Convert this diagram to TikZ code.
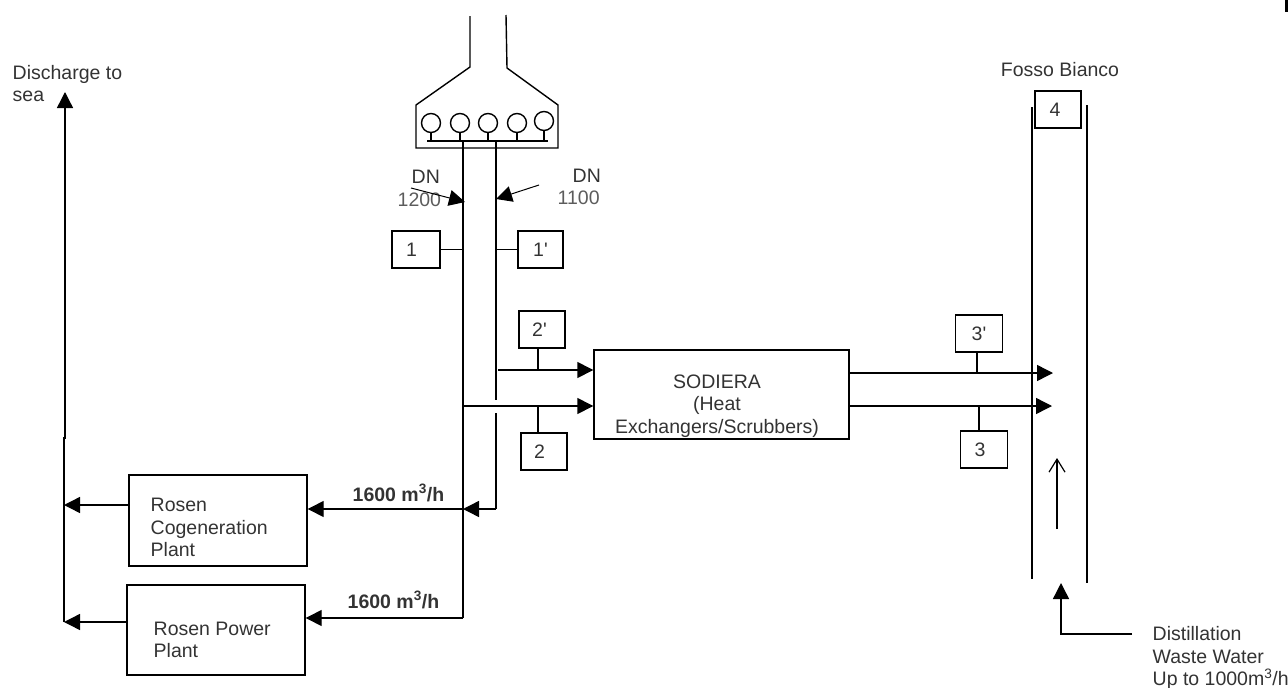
\documentclass[tikz,border=0pt]{standalone}
\usepackage{fontspec}
\setmainfont{Liberation Sans}
\usepackage{tikz}
\usetikzlibrary{arrows.meta, positioning}
\definecolor{lblGrey}{HTML}{333333}
\newcommand{\nudge}[1]{\hspace*{-#1pt}}
\begin{document}
\begin{tikzpicture}[
  x=1pt, y=-1pt,
  node distance=20pt,
  font=\fontsize{19.5}{22.5}\selectfont,
  line width=1.4pt,
  lbl/.style={text=lblGrey, inner sep=0pt, align=left, anchor=west},
  box/.style={draw, inner sep=0pt, text=lblGrey},
  tag/.style={box, minimum width=47pt, minimum height=37pt},
  ar/.style={-{Triangle[length=16pt, width=16pt]}},
  thin ar/.style={-{Straight Barb[length=13pt, width=16pt]}, line width=1.2pt}
]
\useasboundingbox (0,0) rectangle (1288,688);
\fill (1285,0) rectangle (1288,12);

% mains, coming down to the pump house
\coordinate (mainL) at (470,16);
\coordinate (mainR) at (506,15);
\coordinate (neckL) at (470,67);
\coordinate (neckR) at (507,68);
\coordinate (houseTL) at (416,105);
\coordinate (houseTR) at (558,105);
\coordinate (houseBL) at (416,148);
\coordinate (houseBR) at (558,148);
\draw (mainL) -- (neckL) -- (houseTL) -- (houseBL) -- (houseBR) -- (houseTR) -- (neckR) -- (mainR);

% pumps
\coordinate (hdrL) at (427,141);
\coordinate (hdrR) at (548,141);
\draw (hdrL) -- (hdrR);
\foreach \name/\px/\py in {pa/431/123, pb/460/123, pc/488/123, pd/517/123, pe/544/121} {
  \node[draw, circle, minimum size=19pt, inner sep=0pt] (\name) at (\px,\py) {};
  \draw (\name.south) -- (\name.south |- hdrL);
}

% the two pipes
\coordinate (pipeLtop) at (463,141);
\coordinate (pipeRtop) at (496,141);
\coordinate (pipeLend) at (463,618);
\coordinate (pipeRgapA) at (496,400);
\coordinate (pipeRgapB) at (496,413);
\coordinate (pipeRend) at (496,509);
\coordinate (pipeLcog) at (463,509);
\draw (pipeLtop) -- (pipeLend);
\draw (pipeRtop) -- (pipeRgapA);
\draw (pipeRgapB) -- (pipeRend);

% DN labels
\node[lbl] (dnA) at (411,177) {DN};
\node[lbl, text=lblGrey!80] (sizeA) at (397,200) {1200};
\node[lbl] (dnB) at (572,176) {DN};
\node[lbl, text=lblGrey!80] (sizeB) at (557,198) {1100};
\coordinate (dnAfrom) at (411,188);
\coordinate (dnAto) at (465,202);
\coordinate (dnBfrom) at (539,185);
\coordinate (dnBto) at (496,199);
\draw[ar, line width=1pt] (dnAfrom) -- (dnAto);
\draw[ar, line width=1pt] (dnBfrom) -- (dnBto);

% sampling points on the pipes
\node[tag, minimum width=48pt] (s1) at (416,249.5) {\nudge{9}1};
\node[tag, minimum width=45pt] (s1p) at (540.5,249.5) {1\textquotesingle};
\draw (s1.east) -- (s1.east -| pipeLtop);
\draw (s1p.west) -- (s1p.west -| pipeRtop);

% sodiera
\node[box, minimum width=255pt, minimum height=89pt, align=center] (sod) at (721.5,394.5) {};
\node[lbl, anchor=center, align=center] (sodtxt) at (717,406) {SODIERA\\(Heat\\Exchangers/Scrubbers)};
\coordinate (inA) at (498,370);
\coordinate (inB) at (463,406);
\draw[ar] (inA) -- (inA -| sod.west);
\draw[ar] (inB) -- (inB -| sod.west);
\node[tag, minimum width=46pt] (s2p) at (542,329.5) {\nudge{5}2\textquotesingle};
\node[tag, minimum width=46pt] (s2) at (544,451.5) {\nudge{9}2};
\draw (s2p.south -| 538,0) -- (538,370);
\draw (s2.north -| 538,0) -- (538,406);

% out to the channel
\coordinate (outA) at (1053,373);
\coordinate (outB) at (1052,406);
\draw[ar] (outA -| sod.east) -- (outA);
\draw[ar] (outB -| sod.east) -- (outB);
\node[tag] (s3p) at (979,333.5) {3\textquotesingle};
\node[tag] (s3) at (984,449.5) {\nudge{8}3};
\draw (s3p.south -| 977,0) -- (977,373);
\draw (s3.north -| 979,0) -- (979,406);

% fosso bianco
\node[lbl, anchor=center] (fosso) at (1060,70) {Fosso Bianco};
\node[tag, minimum width=46pt] (s4) at (1058,109.5) {\nudge{6}4};
\coordinate (chanLa) at (1032,107);
\coordinate (chanLb) at (1032,579);
\coordinate (chanRa) at (1087,105);
\coordinate (chanRb) at (1087,583);
\draw (chanLa) -- (chanLb);
\draw (chanRa) -- (chanRb);
\coordinate (flowA) at (1057,529);
\coordinate (flowB) at (1057,458);
\draw[thin ar] (flowA) -- (flowB);

% distillation water
\node[lbl] (dist) at (1152,658) {Distillation\\Waste Water\\Up to 1000m\textsuperscript{3}/h};
\coordinate (distA) at (1132,634);
\coordinate (distB) at (1061,634);
\coordinate (distC) at (1061,583);
\draw[ar] (distA) -- (distB) -- (distC);

% rosen plants
\node[box, minimum width=178pt, minimum height=91pt] (cogen) at (218,520.5) {};
\node[lbl] (cogtxt) at (150,527.5) {Rosen\\Cogeneration\\Plant};
\node[box, minimum width=178pt, minimum height=90pt] (power) at (216,630) {};
\node[lbl] (powtxt) at (153,640) {Rosen Power\\Plant};
\draw[ar] (pipeRend) -- (pipeLcog);
\draw[ar] (pipeLcog) -- (pipeLcog -| cogen.east);
\draw[ar] (pipeLend) -- (pipeLend -| power.east);
\node[lbl, font=\fontsize{19.5}{22.5}\selectfont\bfseries] (flowCog) at (352,493) {1600 m\textsuperscript{3}/h};
\node[lbl, font=\fontsize{19.5}{22.5}\selectfont\bfseries] (flowPow) at (347,600) {1600 m\textsuperscript{3}/h};

% discharge line, with its small step
\coordinate (trunkTop) at (65,92);
\coordinate (trunkStep) at (65,438);
\coordinate (trunkLow) at (64,438);
\coordinate (trunkEnd) at (64,622);
\coordinate (trunkCog) at (64,505);
\draw[ar] (trunkEnd) -- (trunkLow) -- (trunkStep) -- (trunkTop);
\draw[ar] (trunkCog -| cogen.west) -- (trunkCog);
\draw[ar] (trunkEnd -| power.west) -- (trunkEnd);
\node[lbl] (disch) at (12,83.5) {Discharge to\\sea};
\end{tikzpicture}
\end{document}
